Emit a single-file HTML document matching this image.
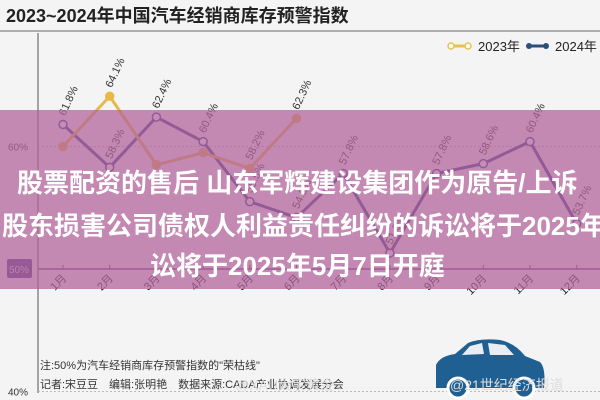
<!DOCTYPE html>
<html><head><meta charset="utf-8"><style>
body{margin:0;width:600px;height:400px;overflow:hidden;background:#f4f4f4;font-family:"Liberation Sans","Noto Sans CJK SC",sans-serif;}
#wrap{position:relative;width:600px;height:400px;}
.ov{position:absolute;left:0;top:110px;width:600px;height:179px;background:rgba(178,100,155,0.74);}
.ot{position:absolute;color:#fff;font-weight:bold;font-size:26px;white-space:nowrap;font-family:"Liberation Sans","Noto Sans CJK SC",sans-serif;}
</style></head><body><div id="wrap">
<svg id="chart" width="600" height="400" style="position:absolute;left:0;top:0">
<text x="6" y="22" font-size="18" fill="#222" font-weight="bold" font-family="Liberation Sans, Noto Sans CJK SC, sans-serif">2023~2024年中国汽车经销商库存预警指数</text>
<line x1="0" y1="31" x2="600" y2="31" stroke="#666" stroke-width="1"/>
<line x1="38" y1="33" x2="38" y2="393" stroke="#555"/>
<g>
<line x1="450" y1="46" x2="468" y2="46" stroke="#e9c24a" stroke-width="3"/><circle cx="451" cy="46" r="3" fill="#fff" stroke="#e9c24a" stroke-width="1.5"/><circle cx="468" cy="46" r="3" fill="#fff" stroke="#e9c24a" stroke-width="1.5"/>
<text x="478" y="51" font-size="13" fill="#222">2023年</text>
<line x1="528" y1="46" x2="546" y2="46" stroke="#2a4f7a" stroke-width="3"/><circle cx="529" cy="46" r="3" fill="#2a4f7a"/><circle cx="546" cy="46" r="3" fill="#2a4f7a"/>
<text x="555" y="51" font-size="13" fill="#222">2024年</text>
</g>
<g id="grid"></g><g id="marks"></g>
<text x="40" y="369" font-size="11" fill="#333">注:50%为汽车经销商库存预警指数的"荣枯线"</text>
<text x="40" y="388" font-size="11" fill="#333">记者:宋豆豆　编辑:张明艳　数据来源:CADA产业协调发展分会</text>
<g>
<path d="M436 388 L436 365 Q440 356 455 354 L468 343 Q480 338 500 340 Q515 343 525 356 L540 362 Q546 368 544 388 Z" fill="#1f5f91"/>
<path d="M470 346 L482 343 L484 354 L462 355 Z M488 343 L505 345 L514 355 L490 355 Z" fill="#e8eef4"/>
<circle cx="458" cy="388" r="10" fill="#1f5f91" stroke="#fff" stroke-width="3"/><circle cx="524" cy="388" r="10" fill="#1f5f91" stroke="#fff" stroke-width="3"/>
</g>
<text x="235" y="390" font-size="14" fill="#ddd">@XAU大宇黄金</text>
<text x="450" y="390" font-size="14" fill="#ddd">@21世纪经济报道</text>
</svg>
<div class="ov"></div>
<div class="ot" style="left:17px;top:163px">股票配资的售后 山东军辉建设集团作为原告/上诉</div>
<div class="ot" style="left:2px;top:206px">股东损害公司债权人利益责任纠纷的诉讼将于2025年</div>
<div class="ot" style="left:150px;top:246px">讼将于2025年5月7日开庭</div>
</div>
<script>
const months=["1月","2月","3月","4月","5月","6月","7月","8月","9月","10月","11月","12月"];
const s2023=[60.0,64.1,58.5,59.5,58.2,62.3];
const l2023=["","64.1%","","","58.2%","62.3%"];
const s2024=[61.8,58.3,62.4,60.4,55.5,54.2,57.8,51.3,57.8,58.6,60.4,53.7];
const yTicks=[40,50,60];
const NS="http://www.w3.org/2000/svg";
const xS=i=>63+46.7*i, yS=v=>269-(v-50)*12.25;
const grid=document.getElementById('grid'), marks=document.getElementById('marks');
function mk(tag,at,par){const e=document.createElementNS(NS,tag);for(const k in at)e.setAttribute(k,at[k]);par.appendChild(e);return e;}
yTicks.forEach(t=>{
 const l=mk('line',{x1:38,x2:600,y1:yS(t),y2:yS(t),stroke:t==50?'#6a3f7a':'#bbb','stroke-width':t==50?1.5:1,'stroke-dasharray':t==50?'':'2,2'},grid);
 
 
 if(t==50){const r=mk('rect',{x:7,y:yS(t)-10,width:25,height:19,rx:2,fill:'#4e3a86'},grid);
  
  }
 const tx=mk('text',{x:t==50?9:8,y:yS(t)+4,'font-size':10,fill:t==50?'#ddd':'#333'},grid);tx.textContent=t+'%';
 
 
});
months.forEach((m,i)=>{
 mk('line',{x1:xS(i),x2:xS(i),y1:yS(50)-4,y2:yS(50),stroke:'#555'},grid);
 const t=mk('text',{x:xS(i)+4,y:yS(50)+10,'font-size':11,fill:'#222','text-anchor':'end',transform:`rotate(-45 ${xS(i)+4} ${yS(50)+10})`},grid);t.textContent=m;
 
 
});
function series(vals,labels,color,fill,name){
 const p=mk('polyline',{points:vals.map((v,i)=>xS(i)+','+yS(v)).join(' '),fill:'none',stroke:color,'stroke-width':3},marks);
 
 
 vals.forEach((v,i)=>{
  const c=mk('circle',{cx:xS(i),cy:yS(v),r:4,fill:fill,stroke:color,'stroke-width':1.5},marks);
  
  
  const lx=xS(i)+2,ly=yS(v)-8;
  const t=mk('text',{x:lx,y:ly,'font-size':11,fill:'#333',transform:`rotate(-65 ${lx} ${ly})`},marks);t.textContent=labels[i];
  
  
 });
}
series(s2024,s2024.map(v=>v.toFixed(1)+'%'),'#3a3f86','#fff','s2024');
series(s2023,l2023,'#e9b84a','#e9b84a','s2023');
</script>
</body></html>
